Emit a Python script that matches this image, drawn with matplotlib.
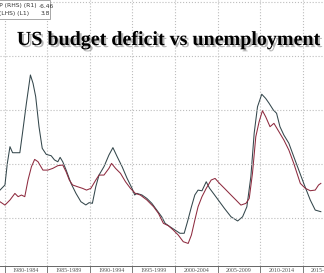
import matplotlib
matplotlib.use("Agg")
import matplotlib.pyplot as plt
import matplotlib.patheffects as pe
import numpy as np

# unemployment rate (LHS)
unemp_year = [1979.45, 1980.03, 1980.31, 1980.62, 1980.93, 1981.78, 1982.09, 1982.55, 1983.02, 1983.33,
              1983.64, 1984.03, 1984.41, 1984.88, 1985.46, 1985.85, 1986.24, 1986.51, 1986.82, 1987.21,
              1987.79, 1988.37, 1988.95, 1989.53, 1989.92, 1990.30, 1990.70, 1991.08, 1991.66, 1992.24,
              1992.71, 1993.21, 1993.79, 1994.37, 1994.95, 1995.27, 1995.53, 1996.12, 1996.70, 1997.28,
              1997.86, 1998.44, 1998.84, 1999.42, 2000.00, 2000.58, 2001.08, 2001.47, 2001.93, 2002.33,
              2002.71, 2003.17, 2003.67, 2004.06, 2004.65, 2005.23, 2005.81, 2006.58, 2007.36, 2007.94,
              2008.44, 2008.91, 2009.30, 2009.69, 2010.19, 2010.65, 2011.05, 2011.55, 2011.93, 2012.33,
              2012.79, 2013.37, 2013.95, 2014.53, 2015.12, 2015.89, 2016.47, 2017.13]
unemp = [5.84, 6.06, 6.99, 7.71, 7.45, 7.45, 8.29, 9.58, 10.8, 10.44,
         9.87, 8.57, 7.64, 7.38, 7.32, 7.14, 7.06, 7.25, 7.06, 6.71,
         6.13, 5.70, 5.34, 5.20, 5.30, 5.27, 5.99, 6.49, 6.85, 7.35,
         7.67, 7.28, 6.85, 6.35, 5.92, 5.63, 5.70, 5.63, 5.48, 5.27,
         4.98, 4.69, 4.41, 4.26, 4.12, 3.98, 3.98, 4.48, 5.12, 5.63,
         5.84, 5.81, 6.20, 5.92, 5.63, 5.34, 5.05, 4.69, 4.51, 4.69,
         5.12, 6.42, 8.29, 9.43, 9.97, 9.79, 9.58, 9.29, 9.15, 8.57,
         8.21, 7.86, 7.28, 6.71, 6.13, 5.41, 4.98, 4.91]

# budget balance % of GDP (RHS, inverted)
bud_year = [1979.45, 1980.03, 1980.62, 1981.20, 1981.58, 1981.97, 1982.36, 1982.74, 1983.14, 1983.52,
            1983.91, 1984.49, 1985.07, 1985.65, 1986.24, 1986.82, 1987.21, 1987.59, 1987.98, 1988.56,
            1989.14, 1989.61, 1990.12, 1990.70, 1991.08, 1991.66, 1992.24, 1992.55, 1993.02, 1993.60,
            1994.19, 1994.77, 1995.35, 1995.93, 1996.70, 1997.48, 1998.06, 1998.64, 1999.22, 1999.80,
            2000.38, 2000.97, 2001.55, 2001.93, 2002.33, 2002.71, 2003.17, 2003.67, 2004.25, 2004.71,
            2005.23, 2005.81, 2006.58, 2007.16, 2007.74, 2008.33, 2008.72, 2009.10, 2009.49, 2009.88,
            2010.27, 2010.65, 2011.16, 2011.62, 2012.21, 2012.79, 2013.37, 2013.95, 2014.33, 2014.72,
            2015.31, 2015.89, 2016.47, 2016.86, 2017.13]
budget = [-1.51, -1.20, -1.67, -2.28, -1.98, -2.13, -1.98, -3.52, -4.75, -5.43,
          -5.22, -4.44, -4.44, -4.60, -4.85, -4.91, -4.29, -3.52, -3.06, -2.90,
          -2.75, -2.59, -2.75, -3.52, -3.98, -3.98, -4.60, -5.06, -4.60, -4.14,
          -3.36, -2.75, -2.28, -2.13, -1.67, -1.05, -0.43, 0.49, 0.71, 1.11,
          1.57, 2.19, 2.35, 1.57, 0.19, -1.05, -1.98, -2.75, -3.52, -3.67,
          -3.21, -2.75, -2.13, -1.67, -1.20, -1.36, -1.82, -4.14, -7.53, -8.92,
          -9.94, -9.38, -8.46, -8.77, -7.99, -7.22, -6.30, -5.06, -4.14, -3.21,
          -2.75, -2.53, -2.59, -3.06, -3.21]

periods = ["1980-1984", "1985-1989", "1990-1994", "1995-1999",
           "2000-2004", "2005-2009", "2010-2014", "2015-2019"]
starts = [1980, 1985, 1990, 1995, 2000, 2005, 2010, 2015]

fig = plt.figure(figsize=(3.24, 2.73), dpi=100)
ax = fig.add_axes([0, 7/273, 1, 266/273])
ax2 = ax.twinx()

ax.plot(unemp_year, unemp, color="#34474c", lw=0.75)
ax2.plot(bud_year, budget, color="#8e2b3f", lw=0.75)

ax.set_xlim(1979.45, 2017.13)
ax.set_ylim(2.57, 14.03)
ax2.set_ylim(4.44, -20.19)

# x ticks: boundaries as major ticks, labels in the middle
ax.set_xticks(starts)
ax.set_xticklabels([])
ax.set_xticks([s + 2.5 for s in starts], minor=True)
ax.set_xticklabels(periods, minor=True, fontsize=4.3, family="Liberation Serif", color="#555555")
ax.tick_params(axis="x", which="major", length=7, width=0.6, color="#666666", direction="out")
ax.tick_params(axis="x", which="minor", length=0, pad=1.5)
ax.set_yticks([])
ax.grid(axis="x", which="major", ls=":", color="#bdbdbd", lw=0.8)

ax2.set_yticks([-20, -15, -10, -5, 0])
ax2.tick_params(axis="y", length=0, labelright=False)
ax2.grid(axis="y", ls=":", color="#bdbdbd", lw=0.8)

for a in (ax, ax2):
    for s in ("top", "left", "right"):
        a.spines[s].set_visible(False)
ax.spines["bottom"].set_color("#666666")
ax.spines["bottom"].set_linewidth(0.7)
ax2.spines["bottom"].set_visible(False)

fig.text(0.519, 1 - 45/273, "US budget deficit vs unemployment", ha="center", va="baseline",
         fontsize=14.4, fontweight="bold", family="Liberation Serif", color="black",
         path_effects=[pe.withSimplePatchShadow(offset=(1.5, -1.5), shadow_rgbFace="#888888", alpha=0.6)])

# legend box, cut off at the left edge
box = plt.Rectangle((-0.05, 1 - 19/273), 0.05 + 50/324, 19/273, transform=fig.transFigure,
                    facecolor="white", edgecolor="#999999", lw=0.6)
fig.patches.append(box)
fig.text(37/324, 1 - 6/273, "US Budget Balance % of GDP (RHS) (R1)", ha="right", va="center",
         fontsize=4.3, color="#333333")
fig.text(39/324, 1 - 6/273, "-6.46", ha="left", va="center", fontsize=4.3, color="#333333")
fig.text(29/324, 1 - 13.5/273, "US Unemployment Rate (LHS) (L1)", ha="right", va="center",
         fontsize=4.3, color="#333333")
fig.text(41/324, 1 - 13.5/273, "3.8", ha="left", va="center", fontsize=4.3, color="#333333")

fig.savefig("out.png", dpi=100)
